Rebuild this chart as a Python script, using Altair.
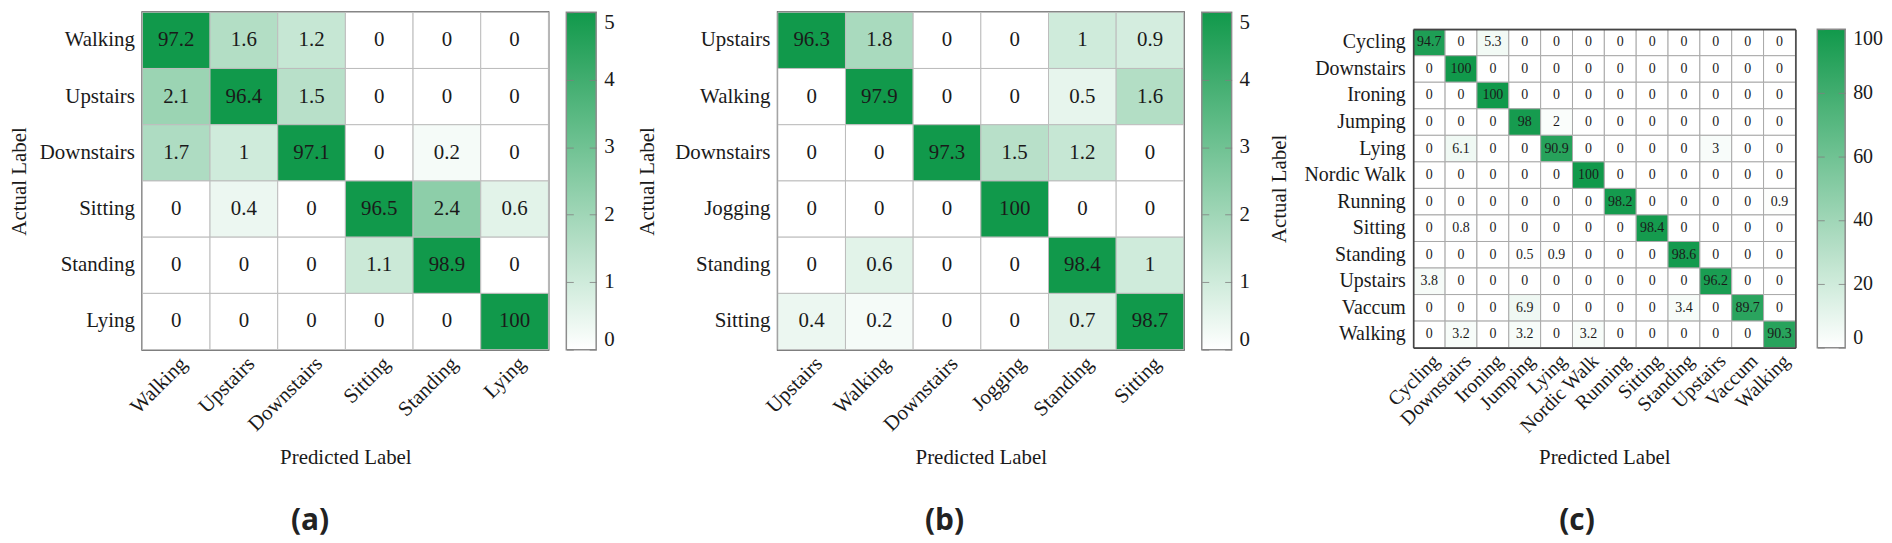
import altair as alt
import pandas as pd

# ---------------- data ----------------
labels_a = ["Walking", "Upstairs", "Downstairs", "Sitting", "Standing", "Lying"]
values_a = [
    [97.2, 1.6, 1.2, 0, 0, 0],
    [2.1, 96.4, 1.5, 0, 0, 0],
    [1.7, 1, 97.1, 0, 0.2, 0],
    [0, 0.4, 0, 96.5, 2.4, 0.6],
    [0, 0, 0, 1.1, 98.9, 0],
    [0, 0, 0, 0, 0, 100],
]

labels_b = ["Upstairs", "Walking", "Downstairs", "Jogging", "Standing", "Sitting"]
values_b = [
    [96.3, 1.8, 0, 0, 1, 0.9],
    [0, 97.9, 0, 0, 0.5, 1.6],
    [0, 0, 97.3, 1.5, 1.2, 0],
    [0, 0, 0, 100, 0, 0],
    [0, 0.6, 0, 0, 98.4, 1],
    [0.4, 0.2, 0, 0, 0.7, 98.7],
]

labels_c = ["Cycling", "Downstairs", "Ironing", "Jumping", "Lying", "Nordic Walk",
            "Running", "Sitting", "Standing", "Upstairs", "Vaccum", "Walking"]
values_c = [
    [94.7, 0, 5.3, 0, 0, 0, 0, 0, 0, 0, 0, 0],
    [0, 100, 0, 0, 0, 0, 0, 0, 0, 0, 0, 0],
    [0, 0, 100, 0, 0, 0, 0, 0, 0, 0, 0, 0],
    [0, 0, 0, 98, 2, 0, 0, 0, 0, 0, 0, 0],
    [0, 6.1, 0, 0, 90.9, 0, 0, 0, 0, 3, 0, 0],
    [0, 0, 0, 0, 0, 100, 0, 0, 0, 0, 0, 0],
    [0, 0, 0, 0, 0, 0, 98.2, 0, 0, 0, 0, 0.9],
    [0, 0.8, 0, 0, 0, 0, 0, 98.4, 0, 0, 0, 0],
    [0, 0, 0, 0.5, 0.9, 0, 0, 0, 98.6, 0, 0, 0],
    [3.8, 0, 0, 0, 0, 0, 0, 0, 0, 96.2, 0, 0],
    [0, 0, 0, 6.9, 0, 0, 0, 0, 3.4, 0, 89.7, 0],
    [0, 3.2, 0, 3.2, 0, 3.2, 0, 0, 0, 0, 0, 90.3],
]

colorbar_ticks_ab = [0, 1, 2, 3, 4, 5]
colorbar_ticks_c = [0, 20, 40, 60, 80, 100]
captions = ["(a)", "(b)", "(c)"]

FONT = "Liberation Serif, Times New Roman, serif"
GREEN = "#11994b"
TXT = "#1a1a1a"


def long_df(labels, values):
    rows = []
    for i, actual in enumerate(labels):
        for j, pred in enumerate(labels):
            v = values[i][j]
            rows.append({"actual": actual, "pred": pred, "v": v, "txt": f"{v:g}"})
    return pd.DataFrame(rows)


def panel(labels, values, w, h, vmax, ticks, num_size, lab_size, cell_stroke,
          legend_x, legend_y, grad_len, grad_thick, title_x, title_y, caption,
          cap_dx, cap_y, yrange=None, own_border=False):
    df = long_df(labels, values)
    xscale = alt.Scale(domain=labels, paddingInner=0, paddingOuter=0)
    if yrange is not None:
        yscale = alt.Scale(domain=labels, paddingInner=0, paddingOuter=0, range=yrange)
    else:
        yscale = alt.Scale(domain=labels, paddingInner=0, paddingOuter=0)

    xaxis = alt.Axis(
        title="Predicted Label", labelAngle=-45, labelAlign="right", labelBaseline="top",
        labelPadding=3, ticks=False, grid=False, domain=own_border,
        domainColor="#444", domainWidth=1.6, zindex=1,
        labelFont=FONT, labelFontSize=lab_size, labelColor=TXT, labelLimit=300,
        labelOverlap=False,
        titleFont=FONT, titleFontSize=21, titleFontWeight="normal", titleColor=TXT,
        titleY=title_y, titleBaseline="middle",
    )
    yaxis = alt.Axis(
        title="Actual Label", labelPadding=8, ticks=False, grid=False, domain=own_border,
        domainColor="#444", domainWidth=1.6, zindex=1,
        labelFont=FONT, labelFontSize=lab_size, labelColor=TXT, labelLimit=300,
        labelOverlap=False,
        titleFont=FONT, titleFontSize=21, titleFontWeight="normal", titleColor=TXT,
        titleX=title_x, titleBaseline="middle",
    )

    base = alt.Chart(df).encode(
        x=alt.X("pred:N", scale=xscale, axis=xaxis),
        y=alt.Y("actual:N", scale=yscale, axis=yaxis),
    )
    rect = base.mark_rect(stroke=cell_stroke, strokeWidth=1).encode(
        color=alt.Color(
            "v:Q",
            scale=alt.Scale(domain=[0, vmax], range=["#ffffff", GREEN], clamp=True,
                            interpolate="rgb"),
            legend=alt.Legend(
                title=None, orient="none", legendX=legend_x, legendY=legend_y,
                direction="vertical", gradientLength=grad_len,
                gradientThickness=grad_thick, values=ticks, padding=0,
                gradientStrokeColor="#8c8c8c", gradientStrokeWidth=1.5,
                labelFont=FONT, labelFontSize=lab_size, labelColor=TXT, labelOffset=8,
            ),
        )
    )
    text = base.mark_text(font=FONT, fontSize=num_size, color=TXT).encode(text="txt:N")
    inner = alt.layer(rect, text)

    # caption "(a)" etc. drawn as the title of an extra, label-less bottom axis
    cap = alt.Chart(df).mark_rect(opacity=0).encode(
        x=alt.X("pred:N", scale=xscale,
                axis=alt.Axis(orient="bottom", labels=False, ticks=False, domain=False,
                              grid=False, title=caption, titleFont="Open Sans",
                              titleFontSize=30, titleFontWeight="bold",
                              titleColor="#222", titleY=cap_y, titleX=w / 2 + cap_dx,
                              titleBaseline="middle", titleAlign="center")),
        y=alt.Y("actual:N", scale=yscale, axis=None),
    )

    # small tick dashes on both inner edges of the colour bar
    tick_df = pd.DataFrame({"t": ticks, "pred": [labels[0]] * len(ticks)})
    tscale = alt.Scale(domain=[0, vmax], range=[legend_y + grad_len, legend_y])
    tick_left = alt.Chart(tick_df).mark_point(opacity=0, size=0).encode(
        x=alt.X("pred:N", scale=xscale, axis=None),
        y=alt.Y("t:Q", scale=tscale,
                axis=alt.Axis(orient="right", offset=legend_x - w, values=ticks,
                              labels=False, domain=False, grid=False, title=None,
                              ticks=True, tickSize=7, tickWidth=1,
                              tickColor="#7f7f7f", tickOpacity=0.8, zindex=3)),
    )
    tick_right = alt.Chart(tick_df).mark_point(opacity=0, size=0).encode(
        x=alt.X("pred:N", scale=xscale, axis=None),
        y=alt.Y("t:Q", scale=tscale,
                axis=alt.Axis(orient="left", offset=-(legend_x + grad_thick),
                              values=ticks, labels=False, domain=False, grid=False,
                              title=None, ticks=True, tickSize=7, tickWidth=1,
                              tickColor="#7f7f7f", tickOpacity=0.8, zindex=3)),
    )

    layers = [inner, cap, tick_left, tick_right]
    if own_border:
        border = alt.Chart(df).mark_rect(opacity=0).encode(
            x=alt.X("pred:N", scale=xscale,
                    axis=alt.Axis(orient="top", labels=False, ticks=False, title=None,
                                  grid=False, domain=True, domainColor="#444",
                                  domainWidth=1.6, offset=-yrange[0], zindex=2)),
            y=alt.Y("actual:N", scale=yscale,
                    axis=alt.Axis(orient="right", labels=False, ticks=False, title=None,
                                  grid=False, domain=True, domainColor="#444",
                                  domainWidth=1.6, zindex=2)),
        )
        layers.append(border)
        view = alt.ViewBackground(stroke="transparent")
    else:
        view = alt.ViewBackground(stroke="#4a4a4a", strokeWidth=2)

    ch = alt.layer(*layers).resolve_scale(y="independent").resolve_axis(
        x="independent", y="independent")
    return ch.properties(width=w, height=h, view=view)


pa = panel(labels_a, values_a, 408, 339, 5, colorbar_ticks_ab, 21, 21, "#bcbcbc",
           426, 0, 339, 30, -123, 108, captions[0], -36, 172)
pb = panel(labels_b, values_b, 408, 339, 5, colorbar_ticks_ab, 21, 21, "#bcbcbc",
           426, 0, 339, 30, -131, 108, captions[1], -37, 172)
pc = panel(labels_c, values_c, 384, 337, 100, colorbar_ticks_c, 14, 20, "#a8a8a8",
           406, 17, 320, 28, -134, 110, captions[2], -28, 174,
           yrange=[17, 337], own_border=True)

chart = alt.hconcat(pa, pb, pc, spacing=230.5, bounds="flush",
                    padding={"left": 0, "top": 1, "right": 0, "bottom": 0}).resolve_scale(
    color="independent", x="independent", y="independent"
).configure(background="white")

chart.save("out.html", embed_options={"renderer": "svg", "actions": False})
